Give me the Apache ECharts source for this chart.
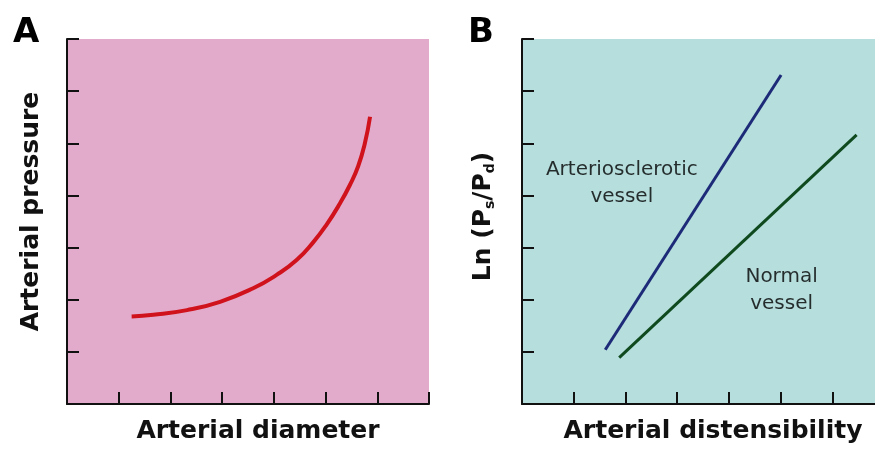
<!DOCTYPE html>
<html>
<head>
<meta charset="utf-8">
<script src="https://cdn.jsdelivr.net/npm/echarts@6/dist/echarts.min.js"></script>
<style>
html,body{margin:0;padding:0;background:#fff;}
#chart{width:875px;height:450px;}
</style>
</head>
<body>
<div id="chart"></div>
<script>
// Panel A: arterial pressure vs arterial diameter (unitless schematic scale 0..7)
const curveA_x = [1.25, 1.67, 2.32, 2.96, 3.60, 4.06, 4.44, 4.76, 5.02, 5.28, 5.47, 5.63, 5.76, 5.86];
const curveA_y = [1.68, 1.71, 1.80, 1.96, 2.22, 2.48, 2.76, 3.10, 3.44, 3.85, 4.20, 4.56, 5.00, 5.51];
// Panel B: Ln(Ps/Pd) vs arterial distensibility
const sclerotic_x = [1.61, 5.01];
const sclerotic_y = [1.04, 6.31];
const normal_x = [1.88, 6.47];
const normal_y = [0.89, 5.16];
// annotation anchors (data coords in panel B)
const labelNames = ['Arteriosclerotic\nvessel', 'Normal\nvessel'];
const label_x = [1.93, 5.02];
const label_y = [4.24, 2.19];
const panelLetters = ['A', 'B'];
const axisNames = ['Arterial diameter', 'Arterial pressure', 'Arterial distensibility'];

const zip = (xs, ys) => xs.map((x, i) => [x, ys[i]]);

const axisCommon = {
  type: 'value', min: 0, max: 7, interval: 1,
  axisLine: { show: true, lineStyle: { color: '#111', width: 2 } },
  axisTick: { show: true, inside: true, length: 12, lineStyle: { color: '#111', width: 2 } },
  axisLabel: { show: false },
  splitLine: { show: false }
};
const nameStyle = { fontFamily: 'DejaVu Sans', fontWeight: 'bold', fontSize: 25, color: '#111' };

const chart = echarts.init(document.getElementById('chart'), null, { renderer: 'canvas' });
chart.setOption({
  backgroundColor: '#ffffff',
  animation: false,
  grid: [
    { left: 67, top: 39, width: 362, height: 365, show: true, backgroundColor: '#e3abcb', borderWidth: 0, outerBoundsMode: 'none', containLabel: false },
    { left: 522, top: 39, width: 362, height: 365, show: true, backgroundColor: '#b6dedd', borderWidth: 0, outerBoundsMode: 'none', containLabel: false }
  ],
  xAxis: [
    Object.assign({}, axisCommon, { gridIndex: 0, name: axisNames[0], nameLocation: 'middle', nameGap: 15,
      nameTextStyle: Object.assign({}, nameStyle, { padding: [0, 0, 0, 20] }) }),
    Object.assign({}, axisCommon, { gridIndex: 1, name: axisNames[2], nameLocation: 'middle', nameGap: 15,
      nameTextStyle: Object.assign({}, nameStyle, { padding: [0, 0, 0, 20] }) })
  ],
  yAxis: [
    Object.assign({}, axisCommon, { gridIndex: 0, name: axisNames[1], nameLocation: 'middle', nameGap: 23,
      nameTextStyle: Object.assign({}, nameStyle, { padding: [0, 0, 0, 20] }) }),
    Object.assign({}, axisCommon, { gridIndex: 1, name: '{m|Ln (P}{s|s}{m|/P}{s|d}{m|)}', nameLocation: 'middle', nameGap: 25,
      nameTextStyle: Object.assign({}, nameStyle, {
        padding: [0, 0, 0, 10],
        rich: {
          m: { fontFamily: 'DejaVu Sans', fontWeight: 'bold', fontSize: 25, color: '#111' },
          s: { fontFamily: 'DejaVu Sans', fontWeight: 'bold', fontSize: 14, color: '#111', padding: [14, 0, 0, 0] }
        }
      }) })
  ],
  graphic: [
    { type: 'text', left: 13, top: 16, style: { text: panelLetters[0], fontFamily: 'DejaVu Sans', fontWeight: 'bold', fontSize: 34, fill: '#000' } },
    { type: 'text', left: 468, top: 16, style: { text: panelLetters[1], fontFamily: 'DejaVu Sans', fontWeight: 'bold', fontSize: 34, fill: '#000' } }
  ],
  series: [
    { type: 'line', xAxisIndex: 0, yAxisIndex: 0, data: zip(curveA_x, curveA_y), smooth: 0.5, showSymbol: false,
      lineStyle: { color: '#d0121c', width: 4 } },
    { type: 'line', xAxisIndex: 1, yAxisIndex: 1, data: zip(sclerotic_x, sclerotic_y), showSymbol: false,
      lineStyle: { color: '#1c2a78', width: 3 } },
    { type: 'line', xAxisIndex: 1, yAxisIndex: 1, data: zip(normal_x, normal_y), showSymbol: false,
      lineStyle: { color: '#0f4a1e', width: 3 } },
    { type: 'scatter', xAxisIndex: 1, yAxisIndex: 1, symbolSize: 0,
      data: label_x.map((x, i) => ({ value: [x, label_y[i]], name: labelNames[i] })),
      label: { show: true, position: 'inside', formatter: p => p.name, fontFamily: 'DejaVu Sans', fontSize: 20,
        lineHeight: 27, color: '#000', align: 'center', verticalAlign: 'middle' } }
  ]
});
</script>
</body>
</html>
